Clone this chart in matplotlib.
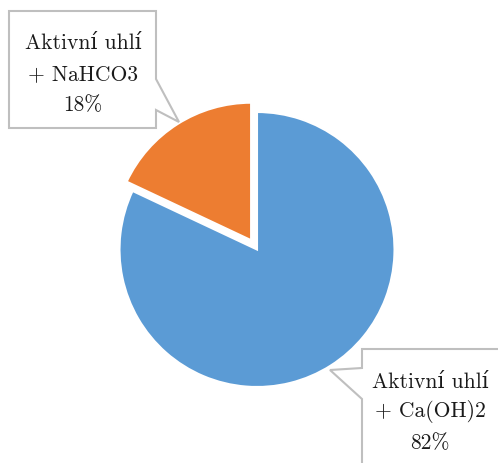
import matplotlib.pyplot as plt
from matplotlib.patches import Polygon

plt.rcParams['font.family'] = ['cmr10', 'DejaVu Serif']
plt.rcParams['axes.formatter.use_mathtext'] = True

labels = ["Aktivní uhlí\n+ Ca(OH)2", "Aktivní uhlí\n+ NaHCO3"]
values = [82, 18]
colors = ["#5B9BD5", "#ED7D31"]

W, H = 498, 464
CX, CY, R = 257, 250.5, 137.5


def px(x, y):
    # pixel coords (top-left origin) -> data coords (pie radius 1)
    return (x - CX) / R, (CY - y) / R


fig = plt.figure(figsize=(W / 100, H / 100), dpi=100)
ax = fig.add_axes([0, 0, 1, 1])
ax.pie(values, colors=colors, startangle=90, counterclock=False,
       explode=[0, 11 / R], radius=1,
       wedgeprops=dict(edgecolor="white", linewidth=1.5))
ax.set_xlim(px(0, 0)[0], px(W, 0)[0])
ax.set_ylim(px(0, H)[1], px(0, 0)[1])
ax.set_aspect("equal")
ax.axis("off")

# callout boxes
box1 = [(9, 12), (156, 12), (156, 80), (179, 123), (156, 111), (156, 129), (9, 129)]
box2 = [(362, 350), (510, 350), (510, 480), (362, 480), (362, 400), (330, 371), (362, 369)]
for pts in (box1, box2):
    ax.add_patch(Polygon([px(*p) for p in pts], closed=True, facecolor="white",
                         edgecolor="#BFBFBF", linewidth=1.5, zorder=3))

text_kw = dict(ha="center", va="center", fontsize=15.5, color="#1a1a1a", zorder=4)
lines1 = labels[1].split("\n") + [f"{values[1]}%"]
for line, y in zip(lines1, [43, 74, 105]):
    ax.text(*px(83, y), line, **text_kw)
lines0 = labels[0].split("\n") + [f"{values[0]}%"]
for line, y in zip(lines0, [382, 412, 443]):
    ax.text(*px(430, y), line, **text_kw)

fig.savefig("out.png", dpi=100)
